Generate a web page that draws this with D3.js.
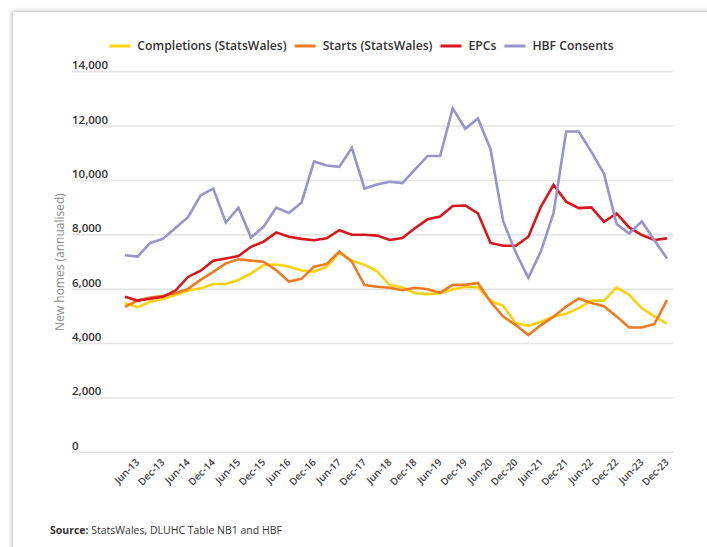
<!DOCTYPE html>
<html><head><meta charset="utf-8">
<script src="https://cdn.jsdelivr.net/npm/d3@7"></script>
<style>
body{margin:0;background:#fff;width:707px;height:547px;overflow:hidden;position:relative;font-family:"Open Sans",Lato,sans-serif}
#card{position:absolute;left:13px;top:12px;width:720px;height:560px;background:#fff;box-shadow:0 0 4px 1px rgba(0,0,0,0.28)}
svg{position:absolute;left:0;top:0}
</style></head><body><div id="card"></div><svg id="chart" width="707" height="547"></svg>
<script>
const quarters = ["Mar-13","Jun-13","Sep-13","Dec-13","Mar-14","Jun-14","Sep-14","Dec-14","Mar-15","Jun-15","Sep-15","Dec-15",
"Mar-16","Jun-16","Sep-16","Dec-16","Mar-17","Jun-17","Sep-17","Dec-17","Mar-18","Jun-18","Sep-18","Dec-18",
"Mar-19","Jun-19","Sep-19","Dec-19","Mar-20","Jun-20","Sep-20","Dec-20","Mar-21","Jun-21","Sep-21","Dec-21",
"Mar-22","Jun-22","Sep-22","Dec-22","Mar-23","Jun-23","Sep-23","Dec-23"];
const tickLabels = ["Jun-13","Dec-13","Jun-14","Dec-14","Jun-15","Dec-15","Jun-16","Dec-16","Jun-17","Dec-17","Jun-18",
"Dec-18","Jun-19","Dec-19","Jun-20","Dec-20","Jun-21","Dec-21","Jun-22","Dec-22","Jun-23","Dec-23"];
const yTicks = [0,2000,4000,6000,8000,10000,12000,14000];

const completions = [5480,5340,5540,5640,5790,5950,6030,6190,6190,6340,6580,6890,6910,6830,6690,6640,6830,7340,7050,6900,6660,6150,
6070,5850,5820,5850,5990,6090,6070,5580,5390,4760,4650,4800,4990,5100,5300,5580,5580,6070,5790,5300,5000,4730];
const starts = [5350,5580,5690,5750,5850,6010,6340,6640,6950,7100,7050,7010,6700,6280,6380,6830,6930,7380,7010,6150,6090,6050,
5960,6050,6000,5870,6160,6160,6230,5540,4990,4680,4310,4680,4990,5360,5660,5490,5370,5000,4590,4590,4720,5600];
const epcs = [5720,5580,5650,5720,5950,6450,6680,7050,7130,7220,7560,7750,8090,7930,7850,7800,7870,8170,8000,8000,7970,7810,
7880,8240,8570,8670,9060,9080,8790,7700,7600,7600,7930,9040,9840,9220,8980,9010,8480,8790,8270,7990,7810,7870];
const hbf = [7250,7200,7700,7850,8250,8650,9450,9700,8450,9000,7900,8300,9000,8800,9180,10700,10550,10500,11200,9700,9850,9950,
9900,10400,10900,10900,12650,11900,12280,11150,8500,7350,6420,7400,8800,11800,11800,11050,10250,8400,8050,8500,7800,7130];

const seriesNames = ["Completions (StatsWales)","Starts (StatsWales)","EPCs","HBF Consents"];
const seriesColors = ["#FBD20F","#EE7A22","#D7161F","#9794CB"];
const seriesData = [completions, starts, epcs, hbf];

const svg = d3.select("#chart");
const x = d3.scalePoint().domain(quarters).range([125, 667]);
const y = d3.scaleLinear().domain([0, 14000]).range([452.3, 71.7]);
const gridX0 = 72, gridX1 = 673;

svg.append("g").selectAll("line").data(yTicks).join("line")
  .attr("x1", gridX0).attr("x2", gridX1)
  .attr("y1", d => y(d)).attr("y2", d => y(d))
  .attr("stroke", "#e4e4e4").attr("stroke-width", 1.5);

svg.append("g").selectAll("text").data(yTicks).join("text")
  .attr("x", gridX0).attr("y", d => y(d) - 2.5)
  .attr("font-size", 11.5).attr("font-weight", 600).attr("fill", "#333")
  .text(d => d3.format(",")(d));

svg.append("text").attr("transform", "translate(64,262) rotate(-90)")
  .attr("text-anchor", "middle").attr("font-size", 12).attr("fill", "#8a8a8a")
  .text("New homes (annualised)");

const xAxis = d3.axisBottom(x).tickValues(tickLabels).tickSize(0).tickPadding(0);
const gx = svg.append("g").attr("transform", "translate(0,458)").call(xAxis);
gx.select(".domain").remove();
gx.selectAll("text")
  .attr("font-family", "'Open Sans', sans-serif").attr("font-size", 10).attr("font-weight", 600).attr("fill", "#3d3d3d")
  .attr("text-anchor", "end").attr("dy", 0).attr("y", 0)
  .attr("transform", "translate(2,5) rotate(-45)");

const line = d3.line().x((d, i) => x(quarters[i])).y(d => y(d));
svg.append("g").selectAll("path").data(seriesData).join("path")
  .attr("d", d => line(d)).attr("fill", "none")
  .attr("stroke", (d, i) => seriesColors[i]).attr("stroke-width", 2.6)
  .attr("stroke-linejoin", "miter").attr("stroke-miterlimit", 3);

const lg = svg.append("g");
let cx = 0;
seriesNames.forEach((n, i) => {
  const g = lg.append("g");
  g.append("line").attr("x1", 0).attr("x2", 21).attr("y1", 0).attr("y2", 0)
    .attr("stroke", seriesColors[i]).attr("stroke-width", 3);
  const t = g.append("text").attr("x", 28).attr("y", 4.2).attr("font-size", 12.2).attr("font-weight", 600)
    .attr("fill", "#333").text(n);
  const w = 28 + t.node().getComputedTextLength();
  g.attr("transform", `translate(${cx},0)`);
  cx += w + 8;
});
const total = cx - 8;
lg.attr("transform", `translate(${361.5 - total / 2},46)`);

const src = svg.append("text").attr("x", 50).attr("y", 534).attr("font-size", 10.5).attr("fill", "#333");
src.append("tspan").attr("font-weight", 700).text("Source: ");
src.append("tspan").text("StatsWales, DLUHC Table NB1 and HBF");
</script></body></html>
